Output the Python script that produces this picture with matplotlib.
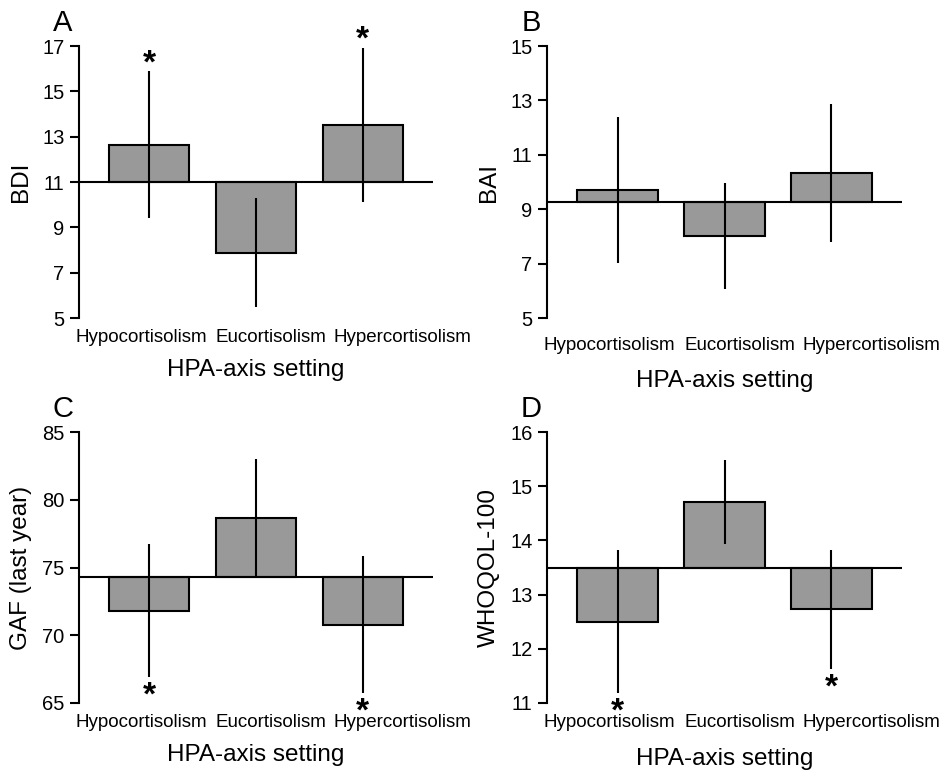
import numpy as np
import matplotlib
matplotlib.use("Agg")
import matplotlib.pyplot as plt

plt.rcParams['font.family'] = ['Liberation Sans', 'DejaVu Sans']

categories = ['Hypocortisolism', 'Eucortisolism', 'Hypercortisolism']

# panel A - BDI
bdi_mean = [12.65, 7.88, 13.53]
bdi_err = [3.25, 2.40, 3.40]
bdi_ref = 11.0
bdi_star = [1, 0, 1]          # 1 = above, -1 = below, 0 = none

# panel B - BAI
bai_mean = [9.72, 8.03, 10.33]
bai_err = [2.68, 1.95, 2.53]
bai_ref = 9.25
bai_star = [0, 0, 0]

# panel C - GAF
gaf_mean = [71.8, 78.65, 70.78]
gaf_err = [4.90, 4.35, 5.05]
gaf_ref = 74.3
gaf_star = [-1, 0, -1]

# panel D - WHOQOL
who_mean = [12.50, 14.71, 12.73]
who_err = [1.32, 0.78, 1.10]
who_ref = 13.49
who_star = [-1, 0, -1]

panels = [
    ('A', 'BDI', bdi_mean, bdi_err, bdi_ref, bdi_star, [5, 7, 9, 11, 13, 15, 17]),
    ('B', 'BAI', bai_mean, bai_err, bai_ref, bai_star, [5, 7, 9, 11, 13, 15]),
    ('C', 'GAF (last year)', gaf_mean, gaf_err, gaf_ref, gaf_star, [65, 70, 75, 80, 85]),
    ('D', 'WHOQOL-100', who_mean, who_err, who_ref, who_star, [11, 12, 13, 14, 15, 16]),
]

W, H = 946, 771
fig = plt.figure(figsize=(W / 100, H / 100), dpi=100)

# axes boxes in pixels: left, top, right, bottom, tick-label pad, xlabel pad
boxes = [(79, 46, 433, 318, 8, 9), (547, 46, 902, 318, 14, 11),
         (79, 432, 433, 703, 8, 9), (547, 432, 902, 703, 8, 12)]
# category labels are spread a bit wider than the bars
label_pos = [-0.08, 1.14, 2.37]

for (letter, ylab, mean, err, ref, star, yt), (l, t, r, b, tp, xp) in zip(panels, boxes):
    ax = fig.add_axes([l / W, 1 - b / H, (r - l) / W, (b - t) / H])
    x = np.arange(len(categories))
    mean = np.array(mean)
    err = np.array(err)
    ax.bar(x, mean - ref, bottom=ref, width=0.75, color='#999999',
           edgecolor='black', linewidth=1.5, zorder=2)
    ax.axhline(ref, color='black', linewidth=1.5, zorder=3)
    ax.vlines(x, mean - err, mean + err, color='black', linewidth=1.5, zorder=4)

    for xi, s, m, e in zip(x, star, mean, err):
        if s > 0:
            ax.annotate('*', (xi, m + e), xytext=(0, -6), textcoords='offset points',
                        ha='center', va='bottom', fontsize=24, fontweight='bold',
                        annotation_clip=False)
        elif s < 0:
            ax.annotate('*', (xi, m - e), xytext=(0, -25), textcoords='offset points',
                        ha='center', va='bottom', fontsize=24, fontweight='bold',
                        annotation_clip=False)

    ax.set_xlim(-0.66, 2.66)
    ax.set_ylim(yt[0], yt[-1])
    ax.set_yticks(yt)
    ax.set_xticks(label_pos)
    ax.set_xticklabels(categories, fontsize=13.5)
    ax.tick_params(axis='x', length=0, pad=tp)
    ax.tick_params(axis='y', labelsize=14.5, width=1.5, length=6.5, pad=4)
    for side in ['top', 'right', 'bottom']:
        ax.spines[side].set_visible(False)
    ax.spines['left'].set_linewidth(1.5)
    ax.set_ylabel(ylab, fontsize=17.5, labelpad=7)
    ax.set_xlabel('HPA-axis setting', fontsize=17.5, labelpad=xp)
    ax.text(-0.045, 1.085, letter, transform=ax.transAxes, fontsize=21,
            ha='center', va='center')

fig.savefig('out.png', dpi=100)
